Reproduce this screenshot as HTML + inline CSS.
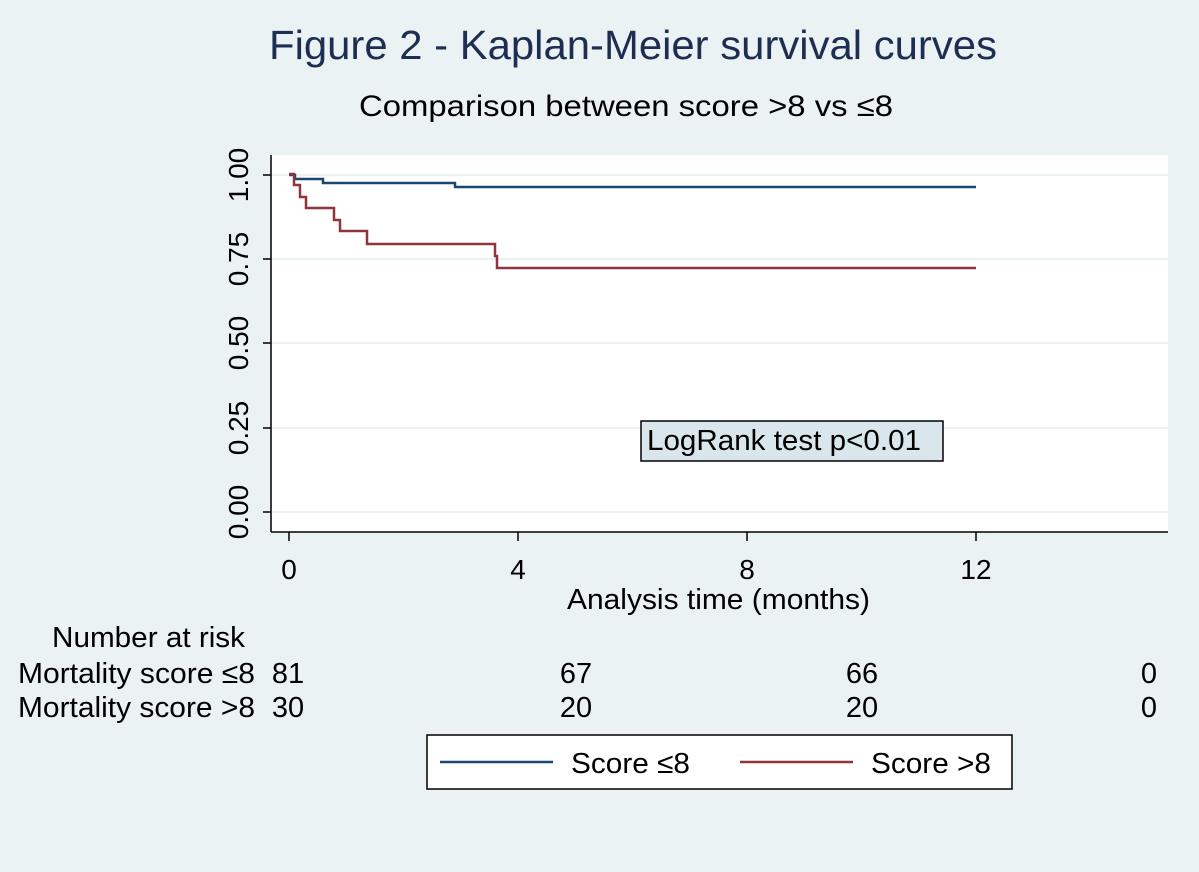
<!DOCTYPE html>
<html><head><meta charset="utf-8"><style>
body{margin:0;background:#eaf2f3;}
svg{display:block;font-family:"Liberation Sans",Arial,sans-serif;}
</style></head><body>
<svg width="1199" height="872" viewBox="0 0 1199 872">
<rect width="1199" height="872" fill="#eaf2f3"/>
<text x="269" y="59" font-size="41" fill="#1e2d52" textLength="728" lengthAdjust="spacingAndGlyphs">Figure 2 - Kaplan-Meier survival curves</text>
<text x="359" y="116" font-size="30" fill="#000" textLength="534" lengthAdjust="spacingAndGlyphs">Comparison between score &gt;8 vs ≤8</text>
<rect x="272" y="155" width="896" height="377" fill="#fff"/>
<g stroke="#eaf2f3" stroke-width="2">
<line x1="272" y1="175" x2="1168" y2="175"/><line x1="272" y1="259" x2="1168" y2="259"/>
<line x1="272" y1="343" x2="1168" y2="343"/><line x1="272" y1="428" x2="1168" y2="428"/>
<line x1="272" y1="512" x2="1168" y2="512"/></g>
<g stroke="#000" stroke-width="1.5">
<line x1="271" y1="155" x2="271" y2="532"/><line x1="271" y1="532" x2="1168" y2="532"/>
<line x1="263" y1="175" x2="271" y2="175"/><line x1="263" y1="259" x2="271" y2="259"/>
<line x1="263" y1="343" x2="271" y2="343"/><line x1="263" y1="428" x2="271" y2="428"/>
<line x1="263" y1="512" x2="271" y2="512"/>
<line x1="289" y1="532" x2="289" y2="541"/><line x1="518" y1="532" x2="518" y2="541"/>
<line x1="747" y1="532" x2="747" y2="541"/><line x1="976" y1="532" x2="976" y2="541"/></g>
<g font-size="28" fill="#000" text-anchor="middle">
<text transform="translate(248,175) rotate(-90)">1.00</text>
<text transform="translate(248,259) rotate(-90)">0.75</text>
<text transform="translate(248,343) rotate(-90)">0.50</text>
<text transform="translate(248,428) rotate(-90)">0.25</text>
<text transform="translate(248,512) rotate(-90)">0.00</text>
<text x="289" y="579">0</text><text x="518" y="579">4</text><text x="747" y="579">8</text><text x="976" y="579">12</text>
</g>
<text x="567" y="609" font-size="29" textLength="303" lengthAdjust="spacingAndGlyphs">Analysis time (months)</text>
<polyline fill="none" stroke="#1a476f" stroke-width="2.5" points="289,175 295,175 295,179 323,179 323,183 455,183 455,187 976,187"/>
<polyline fill="none" stroke="#90353b" stroke-width="2.5" points="289,174 294,174 294,185 300,185 300,197 306,197 306,208 334,208 334,220 340,220 340,231 367,231 367,244 495,244 495,256 497,256 497,268 976,268"/>
<rect x="641" y="421" width="302" height="40" fill="#d9e6eb" stroke="#000" stroke-width="1.5"/>
<text x="647" y="450" font-size="29" textLength="274" lengthAdjust="spacingAndGlyphs">LogRank test p&lt;0.01</text>
<g font-size="29" fill="#000">
<text x="52" y="647" textLength="193" lengthAdjust="spacingAndGlyphs">Number at risk</text>
<text x="18" y="683" textLength="237" lengthAdjust="spacingAndGlyphs">Mortality score ≤8</text>
<text x="18" y="717" textLength="237" lengthAdjust="spacingAndGlyphs">Mortality score &gt;8</text>
<text x="288" y="683" text-anchor="middle">81</text><text x="288" y="717" text-anchor="middle">30</text>
<text x="576" y="683" text-anchor="middle">67</text><text x="576" y="717" text-anchor="middle">20</text>
<text x="862" y="683" text-anchor="middle">66</text><text x="862" y="717" text-anchor="middle">20</text>
<text x="1149" y="683" text-anchor="middle">0</text><text x="1149" y="717" text-anchor="middle">0</text>
</g>
<rect x="427" y="735" width="585" height="54" fill="#fff" stroke="#000" stroke-width="1.5"/>
<line x1="440" y1="762" x2="553" y2="762" stroke="#1a476f" stroke-width="2.5"/>
<line x1="740" y1="762" x2="853" y2="762" stroke="#90353b" stroke-width="2.5"/>
<text x="571" y="773" font-size="29" textLength="119" lengthAdjust="spacingAndGlyphs">Score ≤8</text>
<text x="871" y="773" font-size="29" textLength="120" lengthAdjust="spacingAndGlyphs">Score &gt;8</text>
</svg>
</body></html>
